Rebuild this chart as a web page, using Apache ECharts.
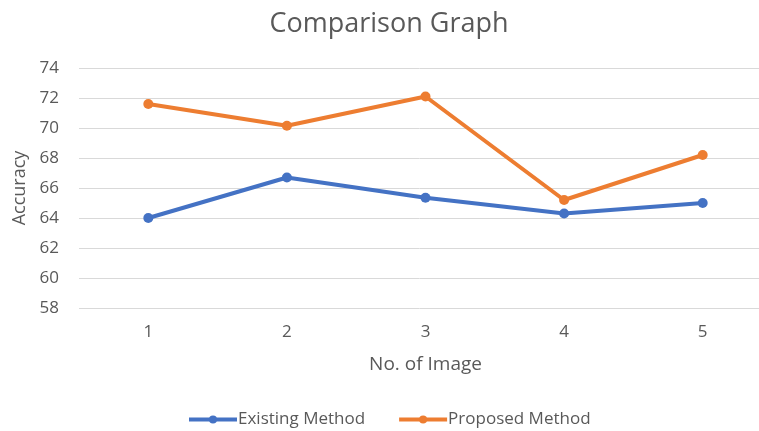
<!DOCTYPE html>
<html>
<head>
<meta charset="utf-8">
<script src="https://cdn.jsdelivr.net/npm/echarts@6/dist/echarts.min.js"></script>
<style>
  html, body { margin: 0; padding: 0; background: #fff; }
  #chart { width: 759px; height: 431px; }
</style>
</head>
<body>
<div id="chart"></div>
<script>
  const categories = ["1", "2", "3", "4", "5"];
  const existingMethod = [64.0, 66.7, 65.35, 64.3, 65.0];
  const proposedMethod = [71.6, 70.15, 72.1, 65.2, 68.2];

  const textColor = "#595959";
  const font = "'Open Sans', 'Noto Sans', sans-serif";

  const chart = echarts.init(document.getElementById("chart"), null, { renderer: "canvas" });

  chart.setOption({
    animation: false,
    title: {
      text: "Comparison Graph",
      left: 384,
      top: 6,
      textAlign: "center",
      textStyle: { color: textColor, fontSize: 27, fontWeight: "normal", fontFamily: font },
    },
    legend: {
      bottom: -2,
      left: 182,
      itemWidth: 48,
      itemHeight: 10,
      itemGap: 32,
      lineStyle: { width: 4 },
      textStyle: { color: textColor, fontSize: 17, fontFamily: font, padding: [0, 0, 0, -4] },
      data: ["Existing Method", "Proposed Method"],
    },
    grid: {
      left: 79,
      width: 693,
      top: 68,
      bottom: 123,
      outerBoundsMode: "none",
    },
    xAxis: {
      type: "category",
      data: categories,
      name: "No. of Image",
      nameLocation: "middle",
      nameGap: 47,
      nameTextStyle: { color: textColor, fontSize: 19, fontFamily: font },
      axisLine: { show: false },
      axisTick: { show: false },
      axisLabel: { color: textColor, fontSize: 17, fontFamily: font, margin: 16 },
    },
    yAxis: {
      type: "value",
      min: 58,
      max: 74,
      interval: 2,
      name: "Accuracy",
      nameLocation: "middle",
      nameGap: 50,
      nameTextStyle: { color: textColor, fontSize: 18, fontFamily: font },
      axisLabel: { color: textColor, fontSize: 17, fontFamily: font, margin: 20 },
      splitLine: { lineStyle: { color: "#d9d9d9", width: 1 } },
    },
    series: [
      {
        name: "Existing Method",
        type: "line",
        data: existingMethod,
        symbol: "circle",
        symbolSize: 10,
        color: "#4472c4",
        lineStyle: { width: 4 },
      },
      {
        name: "Proposed Method",
        type: "line",
        data: proposedMethod,
        symbol: "circle",
        symbolSize: 10,
        color: "#ed7d31",
        lineStyle: { width: 4 },
      },
    ],
  });
</script>
</body>
</html>
